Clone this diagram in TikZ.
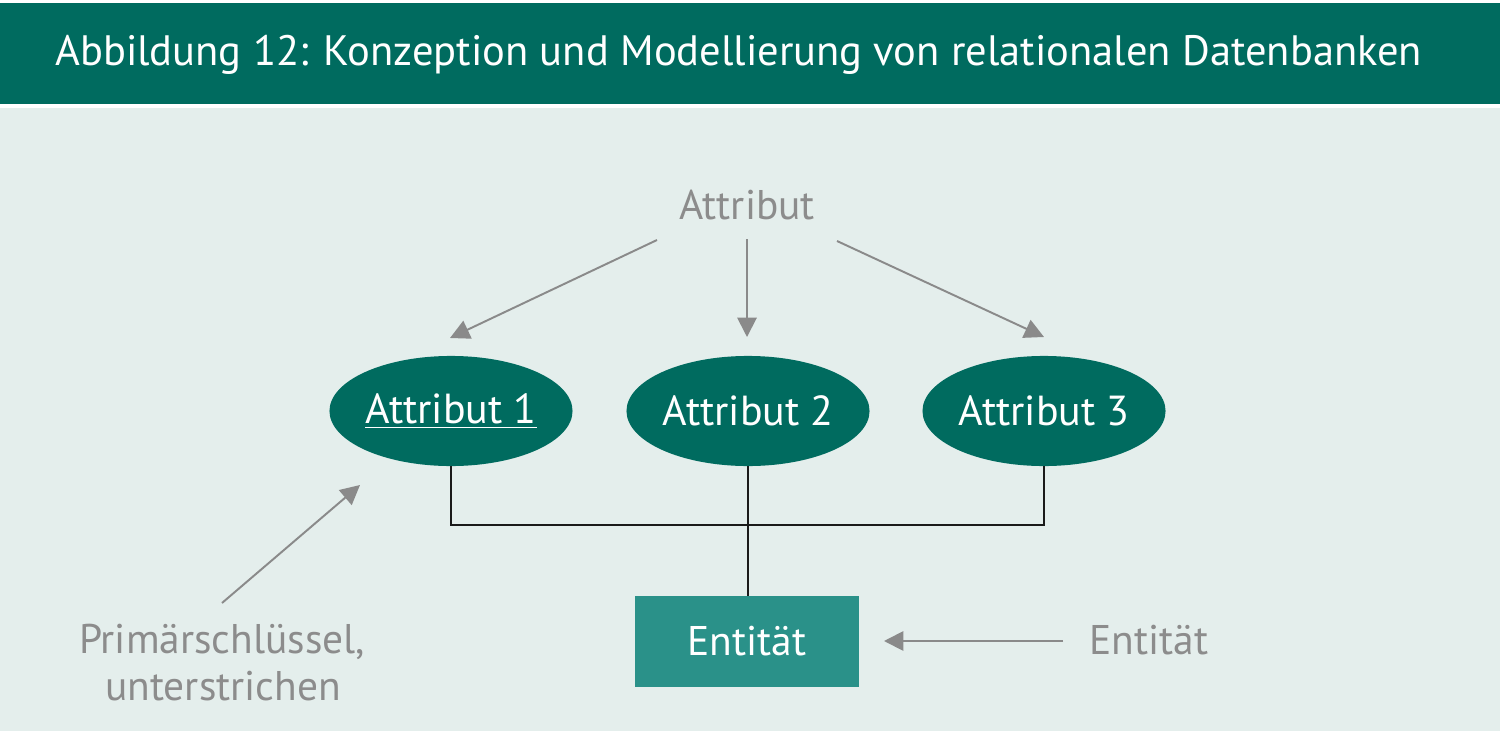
\documentclass[tikz,border=0pt]{standalone}
\usepackage{fontspec}
\setmainfont{PT Sans}
\usetikzlibrary{shapes.geometric,arrows.meta}
\definecolor{hdr}{HTML}{006B5F}
\definecolor{bg}{HTML}{E4EEEC}
\definecolor{entc}{HTML}{2A9189}
\definecolor{gtext}{HTML}{8C8C8C}
\definecolor{garr}{HTML}{8A8A8A}
\definecolor{conn}{HTML}{1A1A1A}
\tikzset{
  attrell/.style={ellipse, fill=hdr, draw=none, minimum width=137.8pt, minimum height=62.4pt, inner sep=0pt, text=white, font=\fontsize{23.8}{28}\selectfont},
  entbox/.style={rectangle, fill=entc, draw=none, minimum width=127pt, minimum height=51.6pt, inner sep=0pt, text=white, font=\fontsize{23.5}{28}\selectfont},
  glabel/.style={text=gtext, font=\fontsize{23.5}{28}\selectfont, inner sep=0pt},
  garrow/.style={draw=garr, line width=1.1pt, -{Triangle[length=11pt,width=11pt]}},
  connline/.style={draw=conn, line width=1.1pt},
}
\begin{document}
\begin{tikzpicture}[x=0.5669pt,y=-0.5669pt]
\useasboundingbox (0,0) rectangle (1500,731);
\fill[white] (0,0) rectangle (1500,731);
\fill[hdr] (0,3) rectangle (1500,104);
\fill[bg] (0,108) rectangle (1500,731);
\node[anchor=base west, text=white, inner sep=0pt, font=\fontsize{24.1}{28}\selectfont] (title) at (55,66) {Abbildung 12: Konzeption und Modellierung von relationalen Datenbanken};
% labels
\node[glabel, anchor=base] (attr) at (747,219) {Attribut};
\node[glabel, anchor=base] (pk) at (222,653) {Primärschlüssel,};
\node[glabel, anchor=base] (pk2) at (223,700) {unterstrichen};
\node[glabel, anchor=base west] (entl) at (1089,654) {Entität};
% ellipses
\node[attrell] (e1) at (451,411) {\underline{Attribut 1}};
\node[attrell] (e2) at (748,411) {Attribut 2};
\node[attrell] (e3) at (1044,411) {Attribut 3};
% entity
\node[entbox] (ent) at (747,641.5) {Entität};
% coordinates
\coordinate (a1s) at (657,240);
\coordinate (a1t) at (450,338);
\coordinate (a2s) at (747,239);
\coordinate (a2t) at (747,337);
\coordinate (a3s) at (837,241);
\coordinate (a3t) at (1044,337);
\coordinate (pks) at (222,603);
\coordinate (pkt) at (360,485);
\coordinate (ens) at (1063,641);
\coordinate (ent2) at (884,641);
\coordinate (j) at (748,525);
% arrows
\draw[garrow] (a1s) -- (a1t);
\draw[garrow] (a2s) -- (a2t);
\draw[garrow] (a3s) -- (a3t);
\draw[garrow] (pks) -- (pkt);
\draw[garrow] (ens) -- (ent2);
% connectors
\draw[connline] (e1.south) |- (j);
\draw[connline] (e3.south) |- (j);
\draw[connline] (e2.south) -- (e2.south |- ent.north);
\end{tikzpicture}
\end{document}
